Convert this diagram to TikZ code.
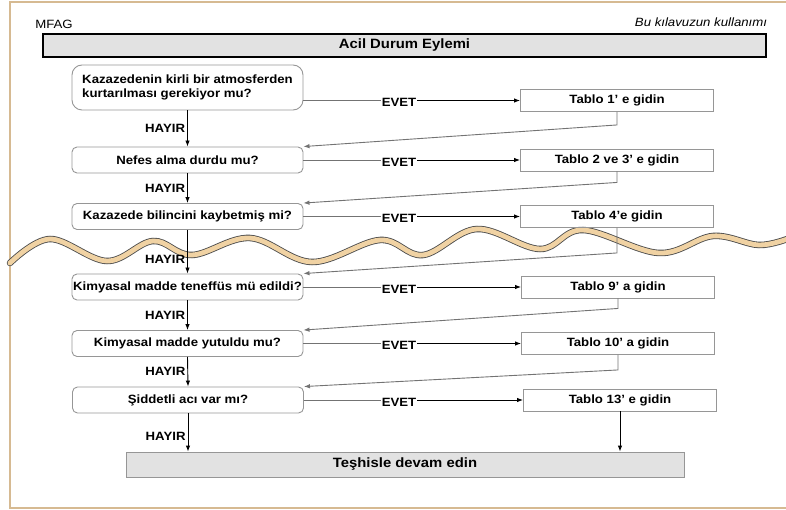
\documentclass[tikz,border=0pt]{standalone}
\usepackage{fontspec}
\setmainfont{Liberation Sans}[FakeStretch=1.1]
\usetikzlibrary{arrows.meta,positioning,calc}
\definecolor{WaveTan}{RGB}{240,210,163}
\definecolor{FrameTan}{RGB}{214,186,146}
\definecolor{BoxGray}{RGB}{150,150,150}
\definecolor{BarFill}{RGB}{226,226,226}
\tikzset{
  txt/.style={font=\fontsize{12}{14}\selectfont\bfseries},
  question/.style={
    txt,
    draw=BoxGray,
    rounded corners=5pt,
    minimum width=231pt,
    minimum height=26pt,
    inner sep=1pt,
    line width=0.9pt
  },
  tablo/.style={txt,draw=BoxGray,minimum width=193pt,minimum height=22pt,inner sep=2pt,line width=0.9pt},
  bar/.style={font=\fontsize{13.5}{15}\selectfont\bfseries,fill=BarFill,inner sep=0pt},
  evet/.style={txt,fill=white,inner sep=0.6pt},
  hayir/.style={txt,left,inner sep=2pt},
  lead/.style={draw=black!55,line width=0.9pt},
  arrow/.style={-{Latex[length=6pt,width=4.5pt]},line width=0.9pt},
  back/.style={arrow,draw=black!55},
  corner/.style={font=\fontsize{12}{14}\selectfont}
}

\begin{document}
\begin{tikzpicture}[x=1pt,y=-1pt]
\useasboundingbox (0,0) rectangle (786,510);

% Page frame and torn-page wave (drawn first, lines go on top).
\draw[FrameTan,line width=2pt] (786,2) -- (10,2) -- (10,508) -- (786,508);
\draw[black!70,line width=6.5pt,line cap=round] plot[smooth,tension=0.6] coordinates {
  (10,263) (50,239) (107,261) (153,241) (192,255) (250,238) (312,262) (380,240)
  (423,255) (477,229) (540,249) (583,230) (659,253) (713,236) (759,245) (790,238)};
\draw[WaveTan,line width=4.8pt,line cap=round] plot[smooth,tension=0.6] coordinates {
  (10,263) (50,239) (107,261) (153,241) (192,255) (250,238) (312,262) (380,240)
  (423,255) (477,229) (540,249) (583,230) (659,253) (713,236) (759,245) (790,238)};

% Header
\node[corner] (mfag) at (54,24) {MFAG};
\node[corner,font=\fontsize{12}{14}\selectfont\itshape] (guide) at (701,22) {Bu kılavuzun kullanımı};
\node[bar,draw=black,line width=1.2pt,minimum width=723pt,minimum height=23pt] (title) at (404.5,45.5) {Acil Durum Eylemi};

% Left column: questions
\node[question,rounded corners=10pt,minimum height=45pt,align=left] (q1) at (187.5,87.5)
  {Kazazedenin kirli bir atmosferden\\kurtarılması gerekiyor mu?};
\node[question] (q2) at (187.5,160) {Nefes alma durdu mu?};
\node[question] (q3) at (187.5,216.5) {Kazazede bilincini kaybetmiş mi?};
\node[question] (q4) at (187.5,287) {Kimyasal madde teneffüs mü edildi?};
\node[question] (q5) at (187.5,343.5) {Kimyasal madde yutuldu mu?};
\node[question] (q6) at (188,400) {Şiddetli acı var mı?};

% Right column: tables
\node[tablo] (t1) at (617,100.5) {Tablo 1' e gidin};
\node[tablo] (t2) at (617,160) {Tablo 2 ve 3' e gidin};
\node[tablo] (t3) at (617,216.5) {Tablo 4'e gidin};
\node[tablo] (t4) at (618,287) {Tablo 9' a gidin};
\node[tablo] (t5) at (618,343.5) {Tablo 10' a gidin};
\node[tablo] (t6) at (620,400) {Tablo 13' e gidin};

\node[bar,draw=BoxGray,line width=0.9pt,minimum width=558pt,minimum height=25pt] (fin) at (405,464.5) {Teşhisle devam edin};

% EVET labels
\node[evet] (e1) at (399,102) {EVET};
\node[evet] (e2) at (399,162) {EVET};
\node[evet] (e3) at (399,218.5) {EVET};
\node[evet] (e4) at (399,289) {EVET};
\node[evet] (e5) at (399,345.5) {EVET};
\node[evet] (e6) at (399,402) {EVET};

\draw[lead] (q1.east |- t1.west) -- (e1.west |- t1.west);
\draw[arrow] (e1.east |- t1.west) -- (t1.west);
\foreach \i in {2,...,6}{
  \draw[lead] (q\i.east) -- (e\i.west |- q\i.east);
  \draw[arrow] (e\i.east |- q\i.east) -- (t\i.west);
}

% HAYIR
\draw[arrow] (q1.south) -- node[hayir] {HAYIR} (q2.north);
\draw[arrow] (q2.south) -- node[hayir] {HAYIR} (q3.north);
\draw[arrow] (q3.south) -- node[hayir,pos=0.68] {HAYIR} (q4.north);
\draw[arrow] (q4.south) -- node[hayir] {HAYIR} (q5.north);
\draw[arrow] (q5.south) -- node[hayir] {HAYIR} (q6.north);
\draw[arrow] (q6.south) -- node[hayir,pos=0.6] {HAYIR} (q6.south |- fin.north);
\draw[arrow] (t6.south) -- (t6.south |- fin.north);

% Back to the next question
\draw[back] (t1.south) -- ++(0,13) -- (q2.north east);
\draw[back] (t2.south) -- ++(0,11) -- (q3.north east);
\draw[back] (t3.south) -- ++(0,25) -- (q4.north east);
\draw[back] (t4.south) -- ++(0,10) -- (q5.north east);
\draw[back] (t5.south) -- ++(0,15) -- (q6.north east);

\end{tikzpicture}
\end{document}
